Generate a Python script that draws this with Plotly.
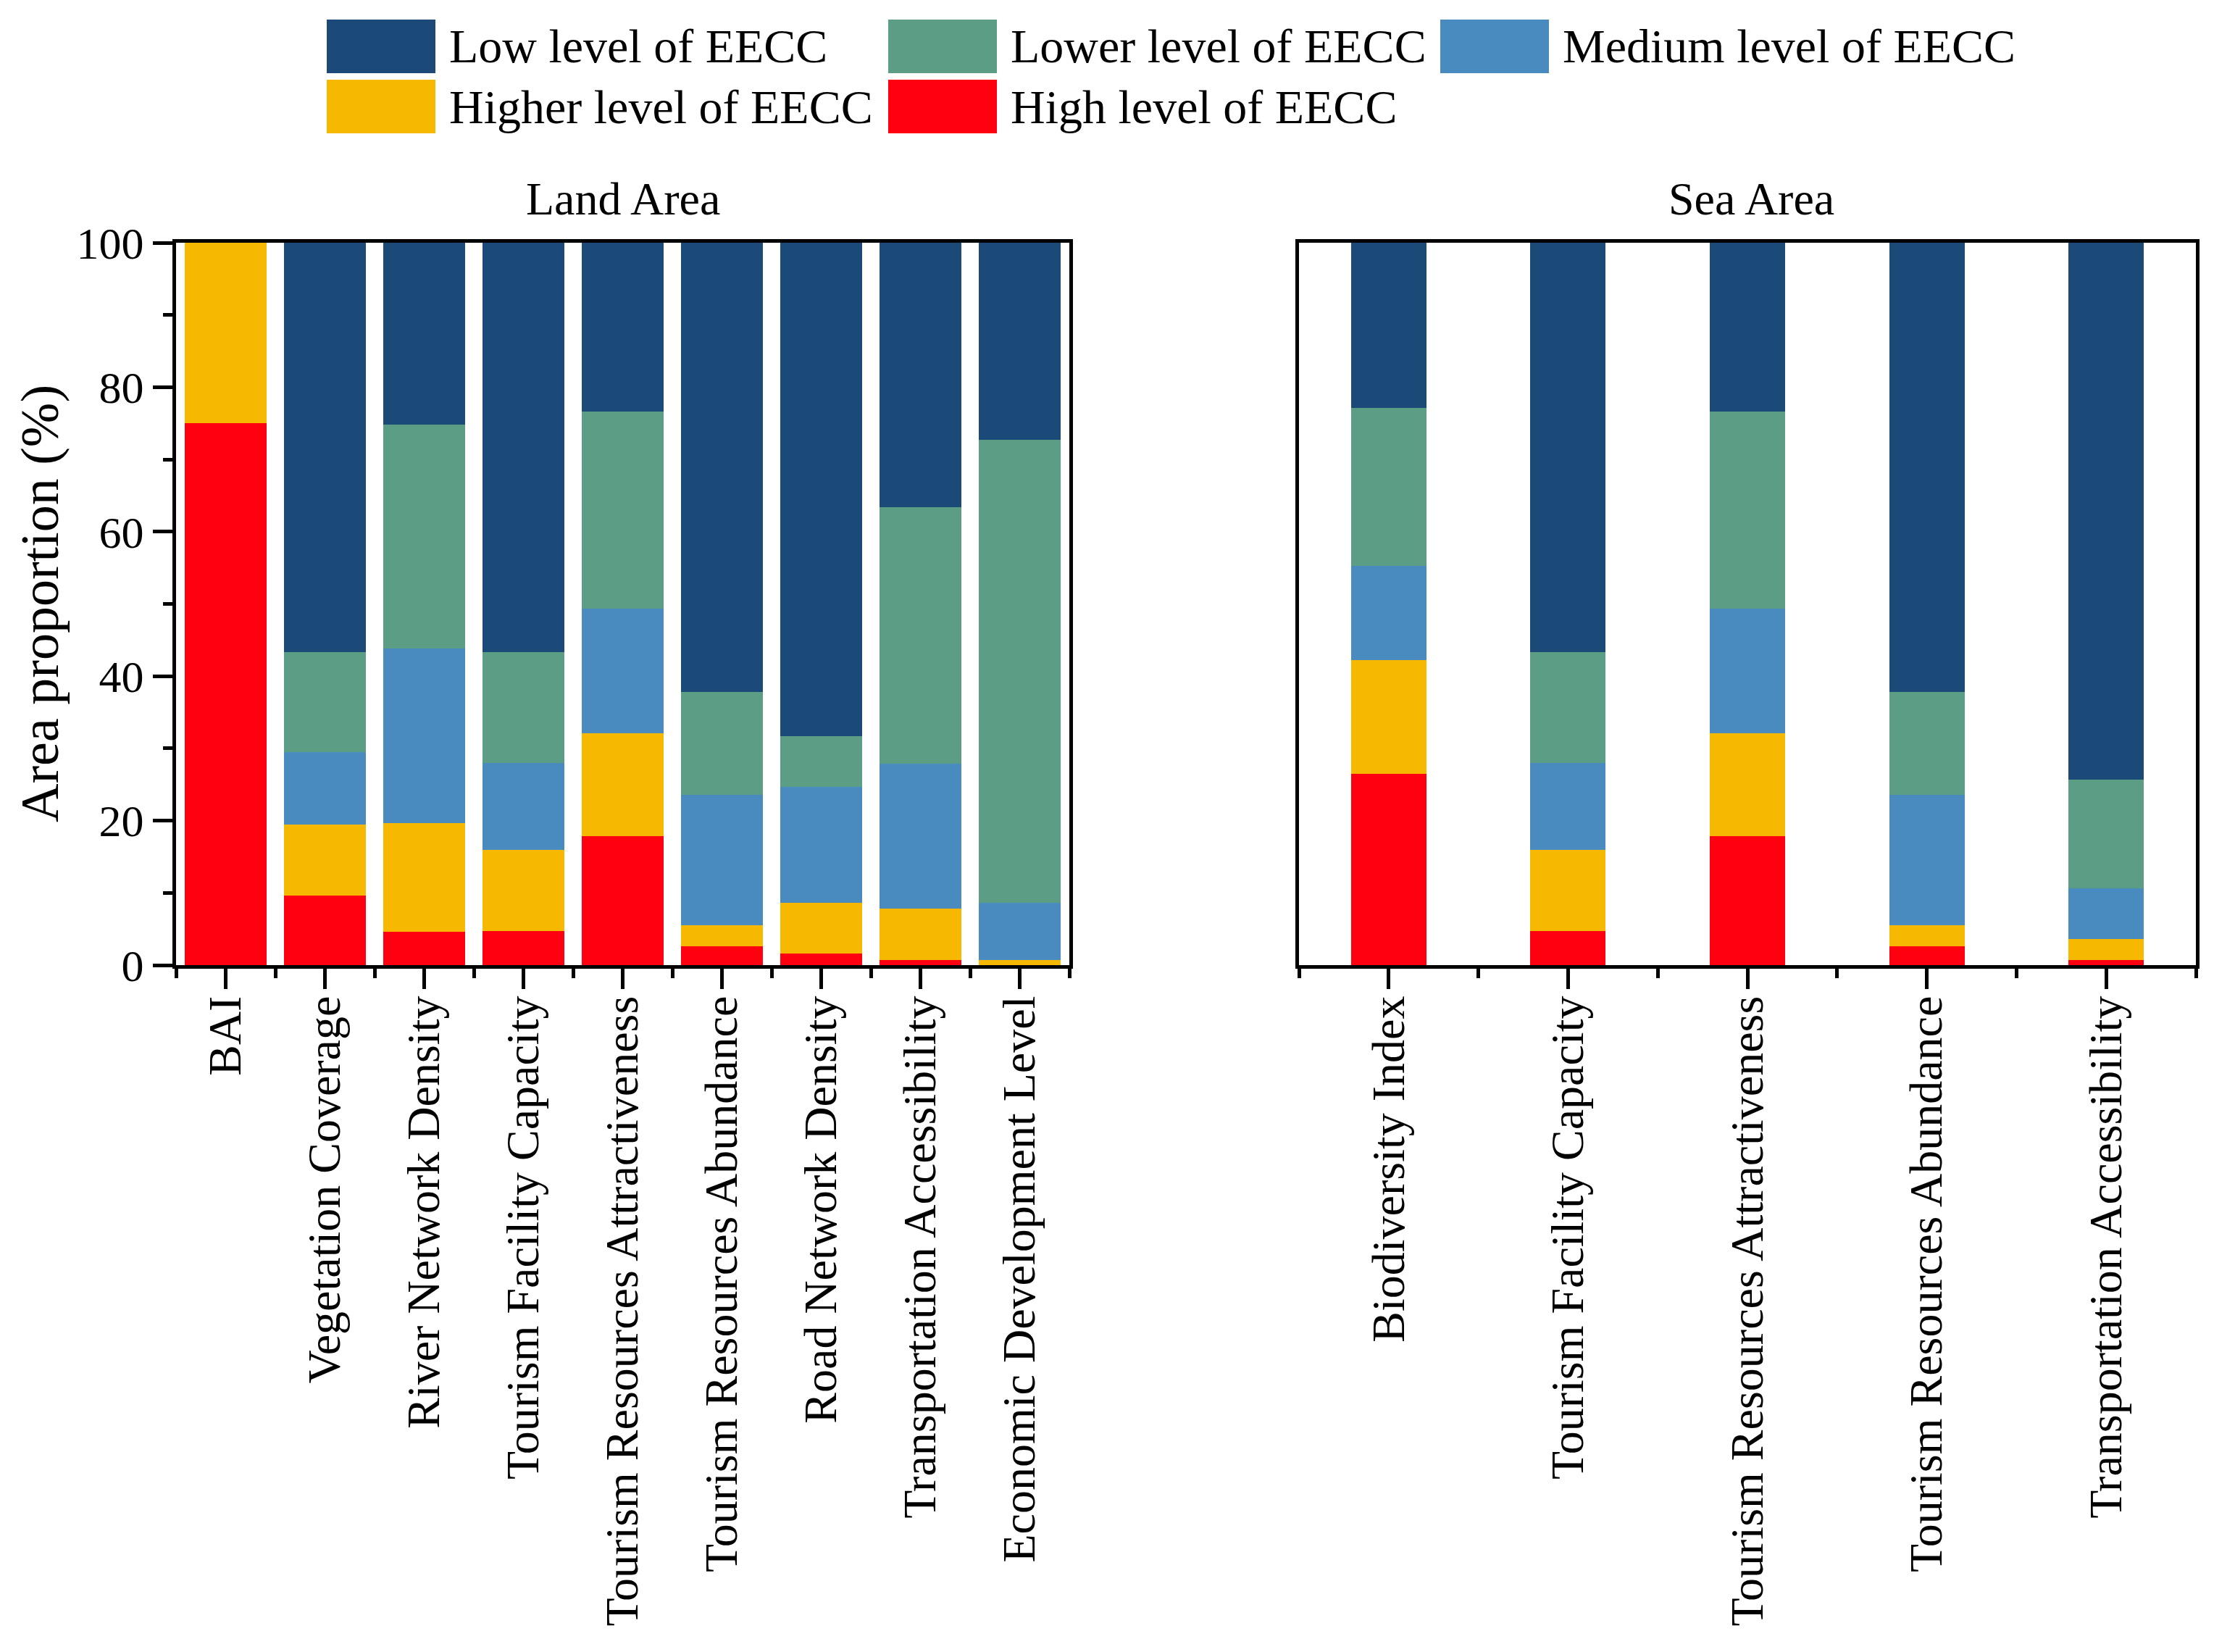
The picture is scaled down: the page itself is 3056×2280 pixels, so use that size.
import plotly.graph_objects as go

W, H = 3056, 2280
FONT = "Liberation Serif, Times New Roman, serif"

# ---- data: area proportion (%) of each EECC level, bottom -> top of the stack ----
levels = ["High level of EECC", "Higher level of EECC", "Medium level of EECC",
          "Lower level of EECC", "Low level of EECC"]
colors = ["#FF0010", "#F6B800", "#4A8BBF", "#5C9E85", "#1B4A78"]

land_cats = ["BAI", "Vegetation Coverage", "River Network Density", "Tourism Facility Capacity",
             "Tourism Resources Attractiveness", "Tourism Resources Abundance",
             "Road Network Density", "Transportation Accessibility", "Economic Development Level"]
land_high   = [75.0, 9.6, 4.6, 4.7, 17.9, 2.6, 1.6, 0.7, 0.0]
land_higher = [25.0, 9.9, 15.1, 11.2, 14.2, 2.9, 7.0, 7.1, 0.7]
land_medium = [0.0, 10.0, 24.1, 12.1, 17.2, 18.1, 16.1, 20.1, 7.9]
land_lower  = [0.0, 13.8, 31.0, 15.3, 27.3, 14.2, 7.0, 35.5, 64.1]
land_low    = [0.0, 56.7, 25.2, 56.7, 23.4, 62.2, 68.3, 36.6, 27.3]

sea_cats = ["Biodiversity Index", "Tourism Facility Capacity", "Tourism Resources Attractiveness",
            "Tourism Resources Abundance", "Transportation Accessibility"]
sea_high   = [26.5, 4.7, 17.9, 2.6, 0.7]
sea_higher = [15.7, 11.2, 14.2, 2.9, 2.9]
sea_medium = [13.1, 12.1, 17.2, 18.1, 7.0]
sea_lower  = [21.8, 15.3, 27.3, 14.2, 15.1]
sea_low    = [22.9, 56.7, 23.4, 62.2, 74.3]

land_series = [land_high, land_higher, land_medium, land_lower, land_low]
sea_series = [sea_high, sea_higher, sea_medium, sea_lower, sea_low]

fig = go.Figure()
land_x = list(range(len(land_cats)))
sea_x = list(range(len(sea_cats)))
for name, col, lv, sv in zip(levels, colors, land_series, sea_series):
    fig.add_trace(go.Bar(x=land_x, y=lv, name=name, marker=dict(color=col, line=dict(width=0)),
                         width=0.82, xaxis="x", yaxis="y", showlegend=False))
    fig.add_trace(go.Bar(x=sea_x, y=sv, name=name, marker=dict(color=col, line=dict(width=0)),
                         width=0.42, xaxis="x2", yaxis="y2", showlegend=False))

OFF = 8  # page body margin offset
def px(x): return (x - OFF) / W
def py(y): return 1 - (y - OFF) / H

LW = 5
xcommon = dict(showline=True, linewidth=LW, linecolor="black", mirror=True, ticks="outside",
               ticklen=28, tickwidth=LW, tickcolor="black", tickangle=-90, showgrid=False,
               zeroline=False, automargin=False, ticklabelstandoff=-16,
               tickfont=dict(family=FONT, size=64, color="black"))
ydom = [py(1332), py(335)]
fig.update_layout(
    template="none",
    width=W, height=H, plot_bgcolor="white", paper_bgcolor="white", barmode="stack",
    margin=dict(l=0, r=0, t=0, b=0, autoexpand=False), font=dict(family=FONT, color="black"),
    xaxis=dict(domain=[px(243), px(1476)], range=[-0.5, len(land_cats) - 0.5],
               tickvals=land_x, ticktext=land_cats,
               minor=dict(tickvals=[i - 0.5 for i in range(len(land_cats) + 1)], ticks="outside",
                          ticklen=13, tickwidth=LW, tickcolor="black"), **xcommon),
    xaxis2=dict(domain=[px(1793), px(3031)], range=[-0.5, len(sea_cats) - 0.5],
                tickvals=sea_x, ticktext=sea_cats, anchor="y2",
                minor=dict(tickvals=[i - 0.5 for i in range(len(sea_cats) + 1)], ticks="outside",
                           ticklen=13, tickwidth=LW, tickcolor="black"), **xcommon),
    yaxis=dict(domain=ydom, range=[0, 100], tickvals=[0, 20, 40, 60, 80, 100], showline=True,
               linewidth=LW, linecolor="black", mirror=True, ticks="outside", ticklen=27,
               tickwidth=LW, tickcolor="black", showgrid=False, zeroline=False, automargin=False,
               minor=dict(tickvals=[10, 30, 50, 70, 90], ticks="outside", ticklen=13,
                          tickwidth=LW, tickcolor="black"),
               tickfont=dict(family=FONT, size=62, color="black")),
    yaxis2=dict(domain=ydom, range=[0, 100], anchor="x2", showline=True, linewidth=LW,
                linecolor="black", mirror=True, ticks="", showticklabels=False,
                showgrid=False, zeroline=False, automargin=False),
)

# y-axis title and panel titles
fig.add_annotation(x=px(55), y=py(833), xref="paper", yref="paper", text="Area proportion (%)",
                   textangle=-90, xanchor="center", yanchor="middle", showarrow=False,
                   font=dict(family=FONT, size=74, color="black"))
for title, cx in [("Land Area", 860), ("Sea Area", 2417)]:
    fig.add_annotation(x=px(cx), y=py(274), xref="paper", yref="paper", text=title,
                       xanchor="center", yanchor="middle", showarrow=False,
                       font=dict(family=FONT, size=64, color="black"))

# custom legend with large swatches (3 columns, 2 rows)
legend_order = [4, 3, 2, 1, 0]
col_x = [451, 1226, 1988]
row_y = [64, 147]
for k, idx in enumerate(legend_order):
    cx, ry = col_x[k % 3], row_y[k // 3]
    fig.add_shape(type="rect", xref="paper", yref="paper", x0=px(cx), x1=px(cx + 150),
                  y0=py(ry + 37), y1=py(ry - 37), fillcolor=colors[idx], line=dict(width=0))
    fig.add_annotation(x=px(cx + 167), y=py(ry), xref="paper", yref="paper", text=levels[idx],
                       xanchor="left", yanchor="middle", showarrow=False,
                       font=dict(family=FONT, size=66, color="black"))

fig.write_html("out.html")
